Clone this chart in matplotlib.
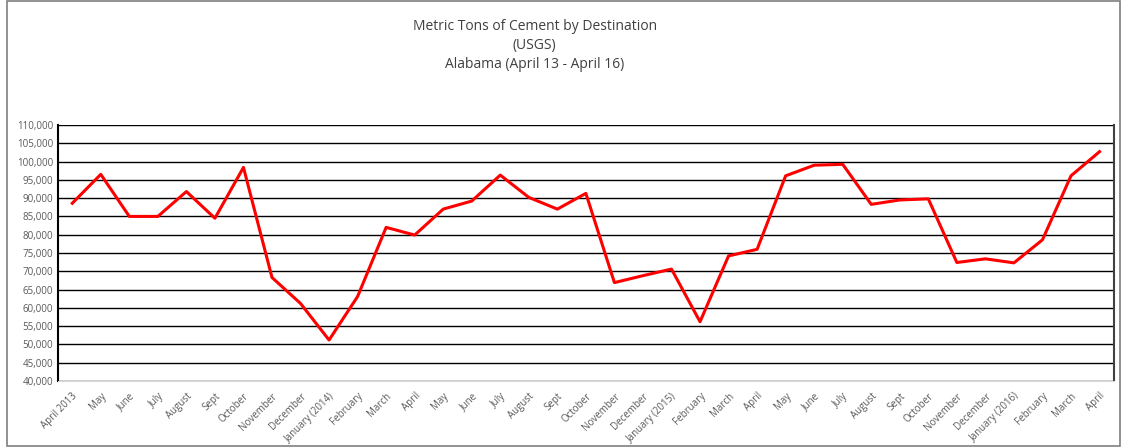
import matplotlib.pyplot as plt
from matplotlib.patches import Rectangle
from matplotlib.ticker import FuncFormatter

months = ["April 2013", "May", "June", "July", "August", "Sept", "October",
          "November", "December", "January (2014)", "February", "March",
          "April", "May", "June", "July", "August", "Sept", "October",
          "November", "December", "January (2015)", "February", "March",
          "April", "May", "June", "July", "August", "Sept", "October",
          "November", "December", "January (2016)", "February", "March", "April"]
tons = [88600, 96500, 85000, 85000, 91800, 84500, 98400,
        68300, 61200, 51200, 63100, 82000,
        79900, 87000, 89200, 96300, 90200, 87000, 91300,
        66900, 68800, 70600, 56200, 74200,
        76000, 96100, 99000, 99250, 88300, 89500, 89800,
        72400, 73400, 72300, 78600, 96100, 102700]

plt.rcParams['font.family'] = ['Open Sans', 'DejaVu Sans']

fig = plt.figure(figsize=(11.28, 4.48), dpi=100)
ax = fig.add_axes([0.0514, 0.1496, 0.936, 0.5714])

x = list(range(len(months)))
ax.plot(x, tons, color='#ff0000', lw=2.2, zorder=3)

ax.set_xlim(-0.5, len(months) - 0.5)
ax.set_ylim(40000, 110000)
ax.set_yticks(range(40000, 110001, 5000))
ax.yaxis.set_major_formatter(FuncFormatter(lambda v, p: f"{int(v):,}"))
ax.set_xticks(x)
ax.set_xticklabels(months, rotation=45, ha='right', rotation_mode='anchor')
ax.tick_params(axis='both', length=0, labelsize=7, labelcolor='#595959')
ax.tick_params(axis='x', pad=7)
ax.grid(axis='y', color='black', lw=1.0)
ax.set_axisbelow(True)

ax.spines['top'].set_visible(False)
ax.spines['left'].set_color('black')
ax.spines['left'].set_linewidth(1.5)
ax.spines['right'].set_color('#404040')
ax.spines['right'].set_linewidth(1.5)
ax.spines['bottom'].set_color('#d9d9d9')

fig.text(0.474, 0.940, "Metric Tons of Cement by Destination", ha='center',
         va='center', fontsize=10, color='#404040')
fig.text(0.474, 0.898, "(USGS)", ha='center', va='center', fontsize=10, color='#404040')
fig.text(0.474, 0.856, "Alabama (April 13 - April 16)", ha='center', va='center',
         fontsize=10, color='#404040')

fig.patches.append(Rectangle((0.006, 0.004), 0.987, 0.994, transform=fig.transFigure,
                             fill=False, edgecolor='#7f7f7f', lw=1.2))

fig.savefig("out.png", dpi=100)
